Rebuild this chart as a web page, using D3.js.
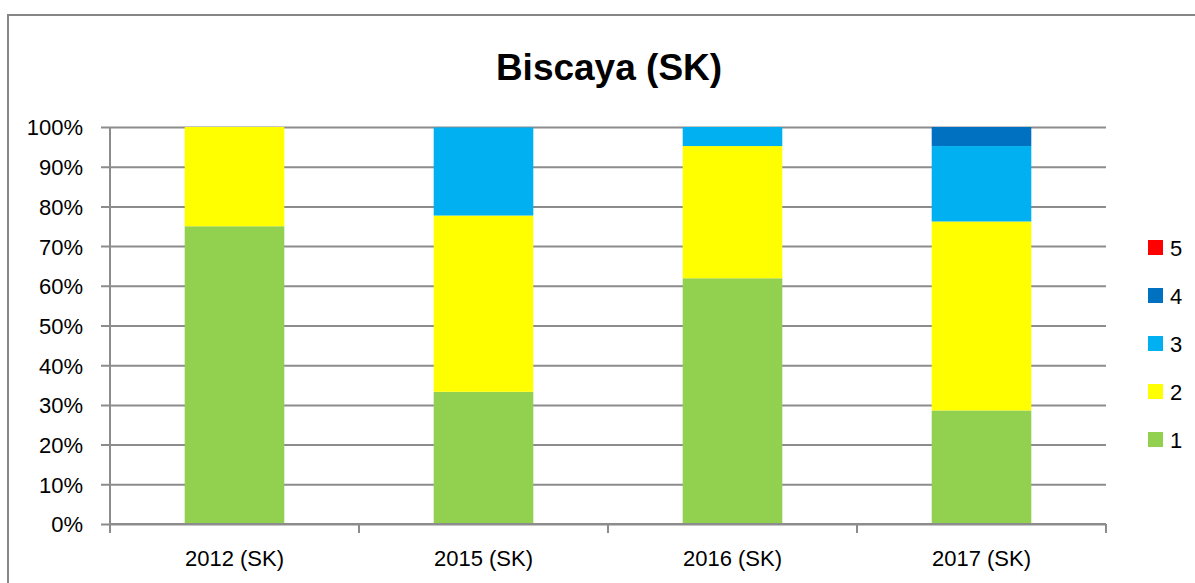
<!DOCTYPE html>
<html>
<head>
<meta charset="utf-8">
<script src="https://cdn.jsdelivr.net/npm/d3@7"></script>
<style>
  html, body { margin: 0; padding: 0; background: #fff; }
  svg { display: block; font-family: "Liberation Sans", Arial, sans-serif; }
</style>
</head>
<body>
<div id="chart"></div>
<script>
// Data (percent of each year's total)
const categories = ["2012 (SK)", "2015 (SK)", "2016 (SK)", "2017 (SK)"];
const seriesNames = ["1", "2", "3", "4", "5"];
const values1 = [75.0, 33.3, 61.9, 28.6];
const values2 = [25.0, 44.4, 33.3, 47.6];
const values3 = [0, 22.2, 4.8, 19.0];
const values4 = [0, 0, 0, 4.8];
const values5 = [0, 0, 0, 0];
const yTicks = [0, 10, 20, 30, 40, 50, 60, 70, 80, 90, 100];
const colors = ["#92D050", "#FFFF00", "#00B0F0", "#0070C0", "#FF0000"];

const allValues = [values1, values2, values3, values4, values5];
const rows = categories.map((c, i) => {
    const r = { category: c };
    seriesNames.forEach((s, k) => { r[s] = allValues[k][i]; });
    return r;
});

const W = 1195, H = 583;
const margin = { top: 127, right: 89, bottom: 59, left: 110 };
const width = W - margin.left - margin.right;
const height = H - margin.top - margin.bottom;

const svg = d3.select("#chart").append("svg")
    .attr("width", W)
    .attr("height", H);

// Chart-area border (runs off the right and bottom edges)
svg.append("rect")
    .attr("x", 8).attr("y", 15)
    .attr("width", 1250).attr("height", 650)
    .attr("fill", "none")
    .attr("stroke", "#868686")
    .attr("stroke-width", 2);

svg.append("text")
    .attr("x", 609).attr("y", 80)
    .attr("text-anchor", "middle")
    .style("font-size", "37px")
    .style("font-weight", "bold")
    .text("Biscaya (SK)");

const g = svg.append("g")
    .attr("transform", `translate(${margin.left},${margin.top})`);

const x = d3.scaleBand()
    .domain(categories)
    .range([0, width])
    .paddingInner(0.6)
    .paddingOuter(0.3);

const xGrid = d3.scaleBand().domain(categories).range([0, width]).padding(0);

const y = d3.scaleLinear()
    .domain([0, 100])
    .range([height, 0]);

// Gridlines + y axis
const yAxis = g.append("g")
    .call(d3.axisLeft(y).tickValues(yTicks).tickSize(-width).tickPadding(27)
        .tickFormat(d => d + "%"));
yAxis.select(".domain").remove();
yAxis.selectAll(".tick line")
    .attr("x1", -9)
    .attr("x2", width)
    .attr("stroke", "#8c8c8c")
    .attr("stroke-width", 2);
yAxis.selectAll(".tick text")
    .attr("fill", "#000")
    .style("font-size", "22px")
    .attr("dy", "0.36em");

g.append("line")
    .attr("x1", 0).attr("x2", 0)
    .attr("y1", 0).attr("y2", height)
    .attr("stroke", "#8c8c8c")
    .attr("stroke-width", 2);

// Stacked bars
const stack = d3.stack().keys(seriesNames);
const layers = stack(rows);

g.selectAll(".layer")
    .data(layers)
    .enter()
    .append("g")
    .attr("class", "layer")
    .attr("fill", (d, i) => colors[i])
    .selectAll("rect")
    .data(d => d)
    .enter()
    .append("rect")
    .attr("x", d => x(d.data.category))
    .attr("width", x.bandwidth())
    .attr("y", d => y(d[1]))
    .attr("height", d => y(d[0]) - y(d[1]));

// X axis
const xAxis = g.append("g")
    .attr("transform", `translate(0,${height})`)
    .call(d3.axisBottom(x).tickSize(0).tickPadding(26));
xAxis.select(".domain")
    .attr("stroke", "#8c8c8c")
    .attr("stroke-width", 2)
    .attr("d", `M0,0H${width}`);
xAxis.selectAll(".tick text")
    .attr("fill", "#000")
    .style("font-size", "22px");

const boundaries = categories.map(c => xGrid(c)).concat([width]);
g.append("g")
    .selectAll("line")
    .data(boundaries)
    .enter()
    .append("line")
    .attr("x1", d => d).attr("x2", d => d)
    .attr("y1", height).attr("y2", height + 9)
    .attr("stroke", "#8c8c8c")
    .attr("stroke-width", 2);

// Legend (reverse order: 5 on top)
const legend = svg.append("g")
    .attr("transform", "translate(1148,240)");
const legendItems = seriesNames.map((s, i) => ({ name: s, color: colors[i] })).reverse();
const li = legend.selectAll("g")
    .data(legendItems)
    .enter()
    .append("g")
    .attr("transform", (d, i) => `translate(0,${i * 48})`);
li.append("rect")
    .attr("width", 15).attr("height", 15)
    .attr("fill", d => d.color);
li.append("text")
    .attr("x", 22).attr("y", 16)
    .style("font-size", "22px")
    .attr("fill", "#000")
    .text(d => d.name);
</script>
</body>
</html>
